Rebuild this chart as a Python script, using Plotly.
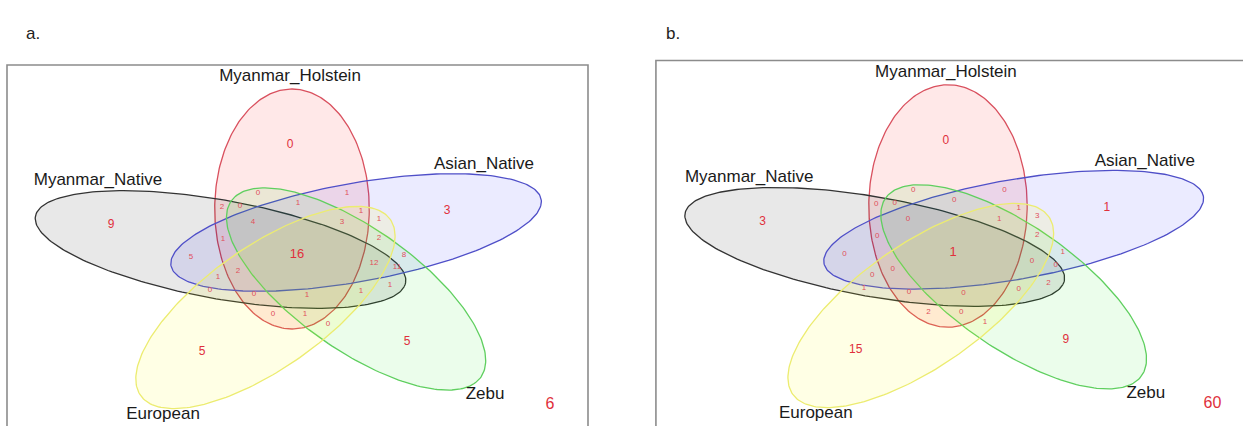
import numpy as np
import plotly.graph_objects as go

W, H = 1243, 426

# ---------------- data ----------------
SET_NAMES = ["Myanmar_Holstein", "Myanmar_Native", "Asian_Native", "Zebu", "European"]

# 25 intersection regions (same region order in both panels)
REGION_A = [0, 1, 2, 0, 1, 1, 1, 4, 3, 1, 2, 5, 8, 12, 11, 2, 1, 1, 0, 0, 1, 1, 0, 1, 0]
REGION_B = [0, 0, 0, 0, 0, 1, 3, 0, 1, 0, 2, 0, 1, 0, 0, 0, 0, 2, 1, 0, 0, 0, 2, 0, 1]
# single-set counts (Holstein, Native, Asian, Zebu, European)
SINGLE_A = [0, 9, 3, 5, 5]
SINGLE_B = [0, 3, 1, 9, 15]
# all five sets
CENTER_A = 16
CENTER_B = 1
# outside all sets
OUTSIDE_A = 6
OUTSIDE_B = 60
PANEL_TAGS = ["a.", "b."]

# ---------------- geometry (venn units, y downwards) ----------------
ELL_A, ELL_B = 48.0, 120.0
ELL_CENTERS = [(0.0, 0.0), (-44.4, 40.5), (39.8, 23.5), (39.8, 80.0), (-16.5, 98.5)]
ELL_ROT = [90, 18, -18, 54, -54]
LINE_COLORS = ["#d9505e", "#333333", "#4f4fc8", "#5fcf5f", "#ecec70"]
FILL_COLORS = ["rgba(255,0,0,0.09)", "rgba(0,0,0,0.09)", "rgba(0,0,255,0.08)",
               "rgba(0,230,0,0.08)", "rgba(255,255,0,0.10)"]

def px(x, y):
    return ((x - 292) / 1.61, y - 209)

REGION_POS = [px(*p) for p in [
    (258, 193), (347, 193), (222, 207), (240, 206), (298, 203), (361, 211), (379, 219),
    (253, 222), (342, 222), (223, 239), (379, 238), (191, 257), (404, 255), (374, 263),
    (397, 267), (238, 271), (218, 277), (390, 285), (210, 290), (254, 294), (307, 295),
    (361, 291), (273, 314), (305, 314), (328, 324)]]
SINGLE_POS = [px(*p) for p in [(290, 145), (111, 225), (447, 211), (407, 342), (202, 352)]]
CENTER_POS = px(297, 255)
OUTSIDE_POS = px(550, 405)
SETLABEL_POS = [px(*p) for p in [(290, 77), (98, 181), (484, 165), (485, 395), (163, 415)]]
BOX = (px(7, 65), px(588, 432))

# panel transforms: pixel = origin + scale * venn
PANELS = [dict(ox=292, oy=209, sx=1.61, sy=1.0), dict(ox=948, oy=206, sx=1.65, sy=1.01)]

FONT = "Arial, Liberation Sans, sans-serif"
RED = "#e0303c"

fig = go.Figure()

def ellipse(cx, cy, rot):
    t = np.linspace(0, 2 * np.pi, 241)
    th = np.radians(rot)
    x = cx + ELL_B * np.cos(t) * np.cos(th) - ELL_A * np.sin(t) * np.sin(th)
    y = cy + ELL_B * np.cos(t) * np.sin(th) + ELL_A * np.sin(t) * np.cos(th)
    return x, y

panel_data = [(REGION_A, SINGLE_A, CENTER_A, OUTSIDE_A), (REGION_B, SINGLE_B, CENTER_B, OUTSIDE_B)]

for i, (reg, sing, cen, out) in enumerate(panel_data):
    xa = "x" if i == 0 else "x2"
    ya = "y" if i == 0 else "y2"
    for k in range(5):
        ex, ey = ellipse(ELL_CENTERS[k][0], ELL_CENTERS[k][1], ELL_ROT[k])
        fig.add_trace(go.Scatter(x=ex, y=ey, mode="lines", fill="toself",
                                 fillcolor=FILL_COLORS[k],
                                 line=dict(color=LINE_COLORS[k], width=1.3),
                                 xaxis=xa, yaxis=ya, hoverinfo="skip", showlegend=False))
    fig.add_trace(go.Scatter(x=[p[0] for p in REGION_POS], y=[p[1] for p in REGION_POS],
                             mode="text", text=[str(v) for v in reg],
                             textfont=dict(family=FONT, size=8, color="#e0505c"),
                             xaxis=xa, yaxis=ya, hoverinfo="skip", showlegend=False))
    fig.add_trace(go.Scatter(x=[p[0] for p in SINGLE_POS], y=[p[1] for p in SINGLE_POS],
                             mode="text", text=[str(v) for v in sing],
                             textfont=dict(family=FONT, size=12, color=RED),
                             xaxis=xa, yaxis=ya, hoverinfo="skip", showlegend=False))
    fig.add_trace(go.Scatter(x=[CENTER_POS[0]], y=[CENTER_POS[1]], mode="text", text=[str(cen)],
                             textfont=dict(family=FONT, size=13, color=RED),
                             xaxis=xa, yaxis=ya, hoverinfo="skip", showlegend=False))
    fig.add_trace(go.Scatter(x=[OUTSIDE_POS[0]], y=[OUTSIDE_POS[1]], mode="text", text=[str(out)],
                             textfont=dict(family=FONT, size=16, color=RED),
                             xaxis=xa, yaxis=ya, hoverinfo="skip", showlegend=False))
    fig.add_trace(go.Scatter(x=[p[0] for p in SETLABEL_POS], y=[p[1] for p in SETLABEL_POS],
                             mode="text", text=SET_NAMES,
                             textfont=dict(family=FONT, size=17, color="#1a1a1a"),
                             xaxis=xa, yaxis=ya, hoverinfo="skip", showlegend=False))
    fig.add_shape(type="rect", xref=xa, yref=ya,
                  x0=BOX[0][0], y0=BOX[0][1], x1=BOX[1][0], y1=BOX[1][1],
                  line=dict(color="#8c8c8c", width=1.6), layer="below")

def axis_ranges(p):
    xr = [-p["ox"] / p["sx"], (W - p["ox"]) / p["sx"]]
    yr = [(H - p["oy"]) / p["sy"], -p["oy"] / p["sy"]]
    return xr, yr

xr1, yr1 = axis_ranges(PANELS[0])
xr2, yr2 = axis_ranges(PANELS[1])
hidden = dict(visible=False, showgrid=False, zeroline=False, fixedrange=True)

fig.update_layout(
    width=W, height=H,
    margin=dict(l=0, r=0, t=0, b=0),
    paper_bgcolor="white", plot_bgcolor="white",
    xaxis=dict(range=xr1, domain=[0, 1], **hidden),
    yaxis=dict(range=yr1, domain=[0, 1], **hidden),
    xaxis2=dict(range=xr2, overlaying="x", anchor="y2", **hidden),
    yaxis2=dict(range=yr2, overlaying="y", anchor="x2", **hidden),
    annotations=[
        dict(text=PANEL_TAGS[0], x=24 / W, y=1 - 22 / H, xref="paper", yref="paper",
             showarrow=False, font=dict(family=FONT, size=17, color="#222")),
        dict(text=PANEL_TAGS[1], x=673 / W, y=1 - 22 / H, xref="paper", yref="paper",
             showarrow=False, font=dict(family=FONT, size=17, color="#222")),
    ],
)

fig.write_html("out.html", config={"displayModeBar": False},
               post_script="document.body.style.margin='0';document.body.style.overflow='hidden';")
